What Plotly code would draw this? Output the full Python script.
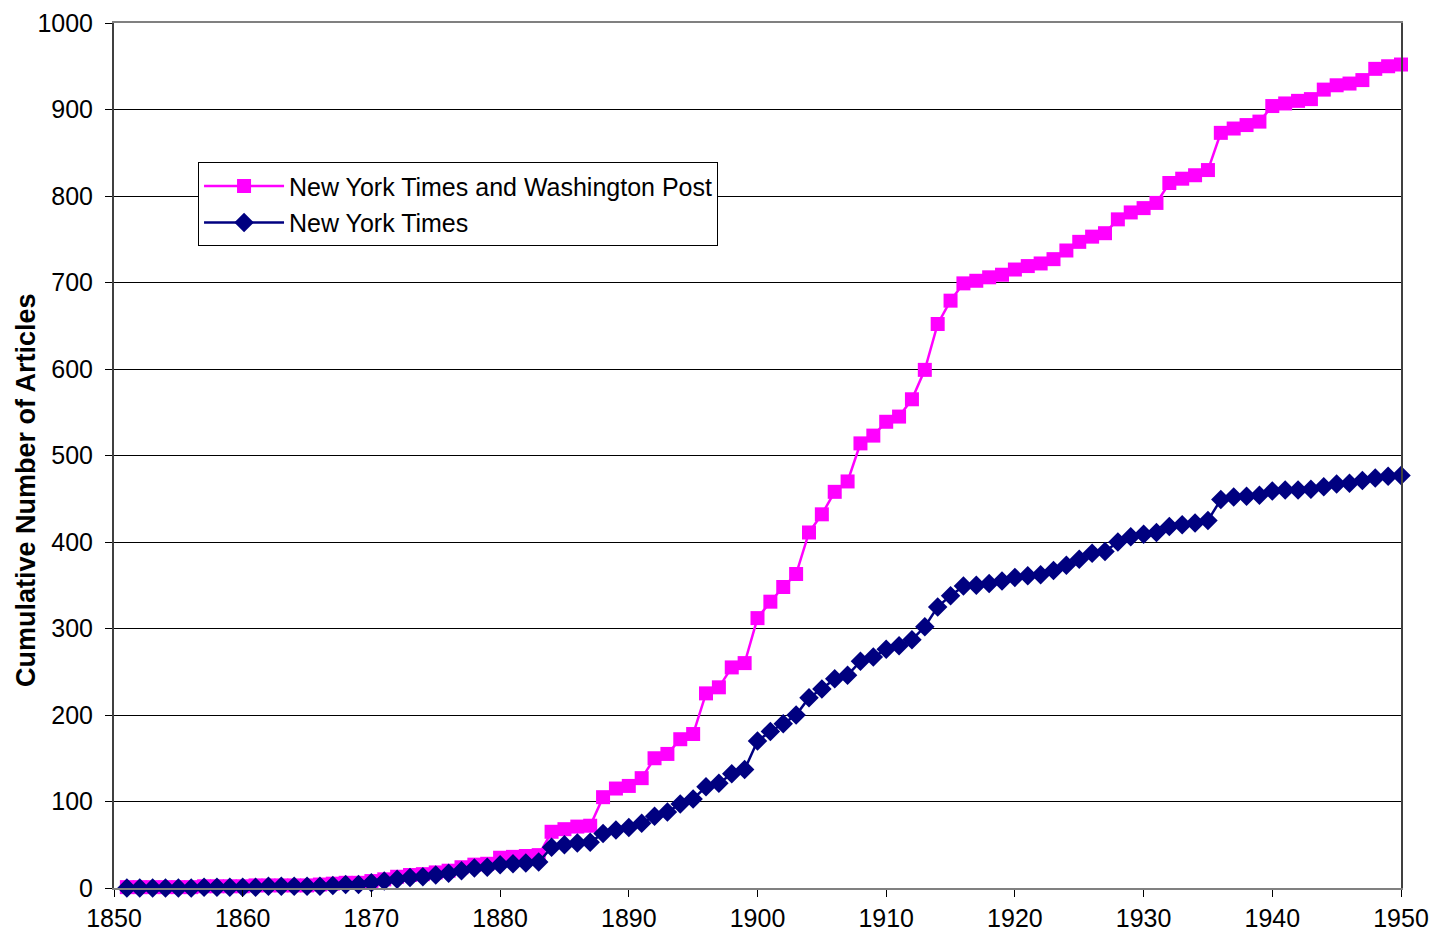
import plotly.graph_objects as go

years = list(range(1851, 1951))

nyt_wp = [1, 1, 1, 1, 1, 1, 2, 2, 2, 2,
          3, 3, 3, 3, 3, 4, 5, 6, 6, 8,
          10, 13, 15, 16, 18, 20, 24, 27, 28, 35,
          36, 37, 38, 65, 68, 71, 72, 105, 115, 118,
          127, 150, 155, 172, 178, 225, 232, 255, 260, 312,
          331, 348, 363, 411, 432, 458, 470, 514, 523, 539,
          545, 565, 599, 652, 679, 699, 702, 706, 709, 715,
          719, 722, 727, 737, 747, 753, 757, 773, 781, 786,
          792, 815, 820, 824, 830, 873, 878, 882, 886, 904,
          907, 910, 912, 923, 928, 930, 934, 947, 950, 952]

nyt = [0, 0, 0, 0, 0, 0, 1, 1, 1, 1,
       1, 2, 2, 2, 2, 2, 3, 4, 4, 6,
       8, 10, 12, 13, 15, 17, 20, 23, 24, 27,
       28, 29, 30, 47, 50, 52, 53, 63, 67, 70,
       75, 83, 88, 97, 103, 117, 121, 132, 137, 170,
       181, 190, 200, 220, 230, 242, 246, 262, 267, 276,
       280, 287, 302, 325, 338, 349, 350, 352, 355, 359,
       361, 362, 367, 373, 380, 387, 389, 400, 406, 409,
       411, 418, 420, 422, 425, 449, 452, 453, 454, 459,
       460, 460, 461, 464, 467, 468, 471, 474, 476, 477]

x_ticks = list(range(1850, 1951, 10))
y_ticks = list(range(0, 1001, 100))

fig = go.Figure()
fig.add_trace(go.Scatter(
    x=years, y=nyt_wp, mode="lines+markers",
    name="New York Times and Washington Post",
    line=dict(color="#FF00FF", width=2.5),
    marker=dict(symbol="square", size=14, color="#FF00FF"),
    cliponaxis=False, legendgroup="a",
))
fig.add_trace(go.Scatter(
    x=years, y=nyt, mode="lines+markers",
    name="New York Times",
    line=dict(color="#000080", width=2.5),
    marker=dict(symbol="diamond", size=15, color="#000080"),
    cliponaxis=False, legendgroup="b",
))

fig.update_layout(
    width=1429, height=928,
    margin=dict(l=106, r=36, t=15, b=48, autoexpand=False),
    paper_bgcolor="white", plot_bgcolor="white",
    font=dict(family="Liberation Sans, Arial, sans-serif", size=25, color="black"),
    showlegend=True,
    legend=dict(
        x=0.0653, y=0.839, xanchor="left", yanchor="top",
        bordercolor="black", borderwidth=1, bgcolor="white",
        font=dict(size=25), tracegroupgap=1,
        traceorder="grouped", itemwidth=80,
    ),
    xaxis=dict(
        range=[1850, 1950], tickvals=x_ticks,
        ticks="outside", ticklen=7, tickcolor="black",
        showline=True, linecolor="#808080", linewidth=2, mirror=True,
        showgrid=False, zeroline=False, automargin=False,
        tickfont=dict(size=25), ticklabeloverflow="allow",
    ),
    yaxis=dict(
        range=[0, 1000], tickvals=y_ticks,
        ticks="outside", ticklen=7, tickcolor="black",
        showline=True, linecolor="#404040", linewidth=2, mirror=True,
        showgrid=True, gridcolor="black", gridwidth=1,
        zeroline=False, automargin=False,
        tickfont=dict(size=25), ticklabelstandoff=7,
        ticklabeloverflow="allow",
    ),
    annotations=[dict(
        text="<b>Cumulative Number of Articles</b>",
        xref="paper", yref="paper", x=-0.0684, y=0.46,
        xanchor="center", yanchor="middle", textangle=-90,
        showarrow=False, font=dict(size=27, color="black"),
    )],
)

fig.write_html("out.html")
